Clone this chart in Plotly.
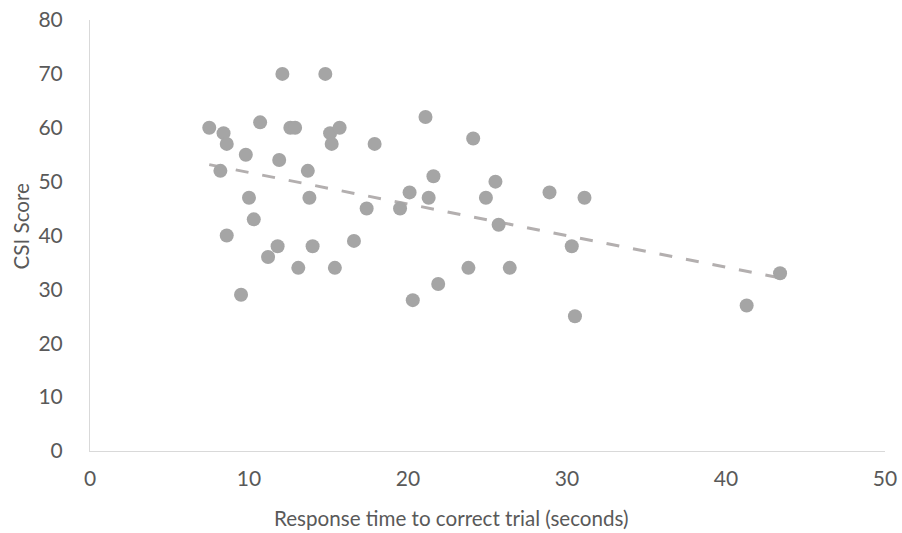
import numpy as np
import plotly.graph_objects as go

# Response time (seconds) and CSI score for each participant
response_time = [12.1, 14.8, 7.5, 8.4, 8.6, 10.7, 12.6, 12.9, 15.1, 15.7, 15.2, 17.9,
                 9.8, 11.9, 8.2, 13.7, 10.0, 13.8, 17.4, 10.3, 8.6, 11.8, 11.2, 14.0,
                 16.6, 13.1, 15.4, 9.5,
                 21.1, 24.1, 21.6, 25.5, 20.1, 21.3, 19.5, 24.9, 28.9, 25.7, 30.3,
                 23.8, 26.4, 21.9, 20.3,
                 31.1, 30.5, 41.3, 43.4]
csi_score = [70, 70, 60, 59, 57, 61, 60, 60, 59, 60, 57, 57,
             55, 54, 52, 52, 47, 47, 45, 43, 40, 38, 36, 38,
             39, 34, 34, 29,
             62, 58, 51, 50, 48, 47, 45, 47, 48, 42, 38,
             34, 34, 31, 28,
             47, 25, 27, 33]

x_ticks = [0, 10, 20, 30, 40, 50]
y_ticks = [0, 10, 20, 30, 40, 50, 60, 70, 80]

x_title = "Response time to correct trial (seconds)"
y_title = "CSI Score"

x_arr = np.array(response_time)
y_arr = np.array(csi_score)
slope, intercept = np.polyfit(x_arr, y_arr, 1)
trend_x = [x_arr.min(), x_arr.max()]
trend_y = [slope * v + intercept for v in trend_x]

FONT = "Lato"
TXT = "#595959"
FS = 21

fig = go.Figure()
fig.add_trace(go.Scatter(
    x=trend_x, y=trend_y, mode="lines",
    line=dict(color="#b3afaf", width=3, dash="13px,14px"),
    hoverinfo="skip", showlegend=False,
))
fig.add_trace(go.Scatter(
    x=response_time, y=csi_score, mode="markers",
    marker=dict(color="#a5a5a5", size=14, line=dict(width=0)),
    showlegend=False,
))

fig.update_layout(
    width=902, height=533,
    margin=dict(l=90, r=17, t=20, b=82, autoexpand=False),
    paper_bgcolor="white", plot_bgcolor="white",
    font=dict(family=FONT, color=TXT, size=FS),
    showlegend=False,
)
fig.update_xaxes(
    range=[0, 50], tickvals=x_ticks, ticktext=[str(v) for v in x_ticks],
    showgrid=False, zeroline=False, automargin=False,
    showline=True, linecolor="#d9d9d9", linewidth=1,
    ticks="", ticklabelstandoff=9,
    tickfont=dict(family=FONT, color=TXT, size=FS),
)
fig.update_yaxes(
    range=[0, 80], tickvals=y_ticks, ticktext=[str(v) for v in y_ticks],
    showgrid=False, zeroline=False, automargin=False,
    showline=True, linecolor="#d9d9d9", linewidth=1,
    ticks="", ticklabelstandoff=22,
    tickfont=dict(family=FONT, color=TXT, size=FS),
)

# Axis titles (Excel centres the horizontal title on the whole chart)
fig.add_annotation(
    text=x_title, xref="paper", yref="paper",
    x=0.4547, y=-0.1555, xanchor="center", yanchor="middle",
    showarrow=False, font=dict(family=FONT, color=TXT, size=20.6),
)
fig.add_annotation(
    text=y_title, xref="paper", yref="paper",
    x=-0.0868, y=0.521, xanchor="center", yanchor="middle",
    textangle=-90, showarrow=False, font=dict(family=FONT, color=TXT, size=20.6),
)

fig.write_html("out.html")
